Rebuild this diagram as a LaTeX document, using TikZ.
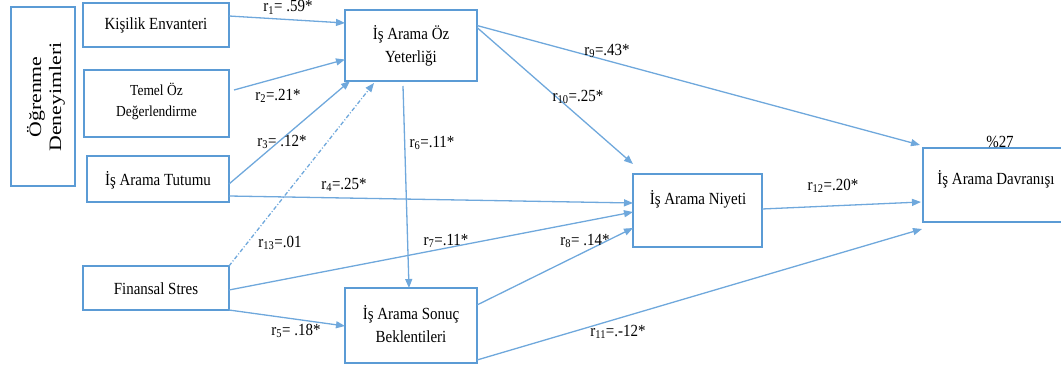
\documentclass[tikz,border=0pt]{standalone}
\usepackage{fontspec}
\setmainfont{Liberation Serif}[FakeStretch=0.88]
\newfontfamily\sideserif{Liberation Serif}
\usetikzlibrary{arrows.meta,calc}
\definecolor{boxblue}{HTML}{5B9BD5}
\definecolor{lineblue}{HTML}{6FA8DC}
\newcommand\rr[1]{r\textsubscript{#1}}
\begin{document}
\begin{tikzpicture}[x=1pt,y=-1pt,
  box/.style={draw=boxblue,line width=2.5pt,rectangle,outer sep=0pt,inner sep=0pt},
  txt/.style={font=\fontsize{17}{23}\selectfont,align=center,inner sep=0pt},
  lbl/.style={font=\fontsize{17}{20}\selectfont,inner sep=0pt},
  path/.style={draw=lineblue,line width=1.3pt,-{Triangle[length=9pt,width=7pt]}},
  dashdot/.style={path,dash pattern=on 4pt off 2pt on 1pt off 2pt}]
\useasboundingbox (0,0) rectangle (1061,369);

% boxes
\node[box,minimum width=64pt,minimum height=179pt] (ogr) at (43,96.5) {};
\node[box,minimum width=146pt,minimum height=44pt] (kis) at (156,25) {};
\node[box,minimum width=145pt,minimum height=67pt] (tem) at (156.5,103.5) {};
\node[box,minimum width=142pt,minimum height=46pt] (tut) at (158,179) {};
\node[box,minimum width=146pt,minimum height=44pt] (fin) at (156,288) {};
\node[box,minimum width=132pt,minimum height=71pt] (oz) at (411,45.5) {};
\node[box,minimum width=132pt,minimum height=75pt] (son) at (411,325.5) {};
\node[box,minimum width=129pt,minimum height=73pt] (niy) at (697.5,210.5) {};
\node[box,minimum width=145pt,minimum height=74pt] (dav) at (995.5,185) {};

% box texts
\node[inner sep=0pt,rotate=90] (ogrT) at (47,97)
  {\scalebox{1}[0.8]{\sideserif\fontsize{21.8}{25}\selectfont
   \begin{tabular}{@{}c@{}}Öğrenme\\Deneyimleri\end{tabular}}};
\node[txt] (kisT) at (156,25) {Kişilik Envanteri};
\node[txt,font=\fontsize{15.3}{21}\selectfont] (temT) at (156.5,101) {Temel Öz\\Değerlendirme};
\node[txt] (tutT) at (158,180) {İş Arama Tutumu};
\node[txt] (finT) at (156,289) {Finansal Stres};
\node[txt] (ozT) at (411,46) {İş Arama Öz\\Yeterliği};
\node[txt] (sonT) at (411,324.5) {İş Arama Sonuç\\Beklentileri};
\node[txt] (niyT) at (698,199) {İş Arama Niyeti};
\node[txt] (davT) at (996,179) {İş Arama Davranışı};
\node[txt,anchor=south] (pct) at (1000,148) {\%27};

% paths
\draw[path] ($(kis.east)+(0,-9)$) -- ($(oz.west)+(0,-22.5)$);
\draw[path] ($(tem.east)+(5,-13.5)$) -- ($(oz.west)+(0,14)$);
\draw[path] ($(tut.east)+(0,5)$) -- ($(oz.south west)+(5,0)$);
\draw[path] ($(tut.east)+(0,17)$) -- ($(niy.west)+(0,-7.5)$);
\draw[path] (fin.south east) -- ($(son.west)+(0,0.5)$);
\draw[path] ($(oz.south)+(-8,5)$) -- ($(son.north)+(-2,0)$);
\draw[path] ($(fin.east)+(0,2)$) -- ($(niy.west)+(0,1.5)$);
\draw[path] ($(son.east)+(0,-20.5)$) -- ($(niy.south west)+(0,-19)$);
\draw[path] ($(oz.east)+(0,-20)$) -- ($(dav.north west)+(-3,-3)$);
\draw[path] ($(oz.east)+(0,-18)$) -- ($(niy.north west)+(0,-10)$);
\draw[path] ($(son.south east)+(0,-3)$) -- ($(dav.south west)+(-1,7)$);
\draw[path] ($(niy.east)+(0,-1.5)$) -- ($(dav.west)+(-2,17)$);
\draw[dashdot] (fin.north east) -- ($(oz.south)+(-37,2)$);

% coefficients
\node[lbl] (l1) at (288,7.5) {\rr{1}= .59*};
\node[lbl] (l2) at (278,96) {\rr{2}=.21*};
\node[lbl] (l3) at (282,142) {\rr{3}= .12*};
\node[lbl] (l4) at (344,185) {\rr{4}=.25*};
\node[lbl] (l5) at (296,331) {\rr{5}= .18*};
\node[lbl] (l6) at (432,143) {\rr{6}=.11*};
\node[lbl] (l7) at (446,241) {\rr{7}=.11*};
\node[lbl] (l8) at (585,241) {\rr{8}= .14*};
\node[lbl] (l9) at (607,51) {\rr{9}=.43*};
\node[lbl] (l10) at (578,97) {\rr{10}=.25*};
\node[lbl] (l11) at (618,332) {\rr{11}=.-12*};
\node[lbl] (l12) at (833,186) {\rr{12}=.20*};
\node[lbl] (l13) at (280,243) {\rr{13}=.01};
\end{tikzpicture}
\end{document}
